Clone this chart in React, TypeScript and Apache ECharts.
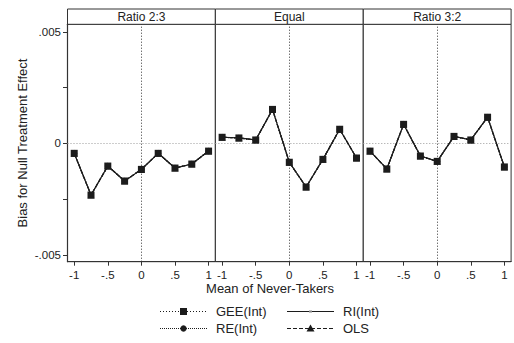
import React, { useEffect, useRef } from 'react';
import * as echarts from 'echarts';

// Mean of never-takers (x) and bias estimates for each allocation ratio
const neverTakerMeans = [-1, -0.75, -0.5, -0.25, 0, 0.25, 0.5, 0.75, 1];
const panelTitles = ['Ratio 2:3', 'Equal', 'Ratio 3:2'];
const biasRatio23 = [-0.00045, -0.00232, -0.00102, -0.00169, -0.00117, -0.00045, -0.00111, -0.00093, -0.00035];
const biasEqual = [0.00027, 0.00024, 0.00015, 0.00152, -0.00085, -0.00196, -0.00072, 0.00063, -0.00066];
const biasRatio32 = [-0.00035, -0.00115, 0.00085, -0.00057, -0.00081, 0.00031, 0.00015, 0.00117, -0.00106];
const panelBias = [biasRatio23, biasEqual, biasRatio32];

const xTickValues = [-1, -0.5, 0, 0.5, 1];
const yTickValues = [-0.005, -0.0025, 0, 0.0025, 0.005];
const yLabelValues = [-0.005, 0, 0.005];

const X_TITLE = 'Mean of Never-Takers';
const Y_TITLE = 'Bias for Null Treatment Effect';

const FONT = '"Liberation Sans", Arial, sans-serif';
const INK = '#1c1c1c';
const FRAME = '#333333';

// Estimators, drawn bottom to top
const estimators = [
  { name: 'OLS', lineType: [4, 2] as any, symbol: 'triangle', size: 7 },
  { name: 'RE(Int)', lineType: [1, 1] as any, symbol: 'circle', size: 6 },
  { name: 'RI(Int)', lineType: 'solid' as any, symbol: 'rect', size: 2 },
  { name: 'GEE(Int)', lineType: [1, 2] as any, symbol: 'rect', size: 7 },
];

const stataNum = (v: number) => {
  const s = String(Math.round(v * 1e6) / 1e6);
  return s.replace(/^(-?)0\./, '$1.');
};

const PANEL_LEFT = [67.5, 215.4, 363.3];
const PANEL_W = 147.8;
const PANEL_TOP = 24.3;
const PANEL_H = 237.4;
const HEADER_TOP = 9;

export default function App() {
  const ref = useRef<HTMLDivElement>(null);

  useEffect(() => {
    if (!ref.current) return;
    const chart = echarts.init(ref.current, undefined, { renderer: 'svg' });

    const grids = PANEL_LEFT.map((left) => ({
      left,
      top: PANEL_TOP,
      width: PANEL_W,
      height: PANEL_H,
      show: true,
      borderColor: FRAME,
      borderWidth: 1,
      backgroundColor: '#fff',
    }));

    const xAxes = PANEL_LEFT.map((_, i) => ({
      type: 'value',
      gridIndex: i,
      min: -1.1,
      max: 1.1,
      axisLine: { show: true, onZero: false, lineStyle: { color: FRAME, width: 1.2 } },
      axisTick: { show: true, length: 4, customValues: xTickValues, lineStyle: { color: FRAME } },
      axisLabel: {
        show: true,
        customValues: xTickValues,
        margin: 7,
        fontSize: 11.5,
        fontFamily: FONT,
        color: '#222',
        formatter: (v: number) => stataNum(v),
      },
      splitLine: { show: false },
    }));

    const yAxes = PANEL_LEFT.map((_, i) => ({
      type: 'value',
      gridIndex: i,
      min: -0.00531,
      max: 0.005336,
      axisLine: { show: i === 0, onZero: false, lineStyle: { color: FRAME, width: 1.2 } },
      axisTick: { show: i === 0, length: 4.5, customValues: yTickValues, lineStyle: { color: FRAME } },
      axisLabel: {
        show: i === 0,
        customValues: yLabelValues,
        margin: 6.5,
        fontSize: 11.5,
        fontFamily: FONT,
        color: '#222',
        formatter: (v: number) => stataNum(v),
      },
      splitLine: { show: false },
    }));

    const series: any[] = [];
    panelBias.forEach((bias, p) => {
      const data = neverTakerMeans.map((x, k) => [x, bias[k]]);
      estimators.forEach((est, e) => {
        const s: any = {
          name: est.name,
          type: 'line',
          xAxisIndex: p,
          yAxisIndex: p,
          data,
          symbol: est.symbol,
          symbolSize: est.size,
          showSymbol: true,
          lineStyle: { color: INK, width: 1.2, type: est.lineType },
          itemStyle: { color: est.name === 'RI(Int)' ? '#888' : INK },
          z: 3 + e,
          silent: true,
        };
        if (e === 0) {
          s.markLine = {
            z: 1,
            silent: true,
            symbol: 'none',
            label: { show: false },
            data: [
              { xAxis: 0, lineStyle: { color: '#333', type: [1, 2], width: 1 } },
              { yAxis: 0, lineStyle: { color: '#9a9a9a', type: [1, 2], width: 1 } },
            ],
          };
        }
        series.push(s);
      });
    });

    const graphics: any[] = [];
    // Panel headers
    PANEL_LEFT.forEach((left, i) => {
      graphics.push({
        type: 'rect',
        shape: { x: left, y: HEADER_TOP, width: PANEL_W, height: PANEL_TOP - HEADER_TOP },
        style: { fill: '#fff', stroke: FRAME, lineWidth: 1 },
      });
      graphics.push({
        type: 'text',
        x: left + PANEL_W / 2,
        y: (HEADER_TOP + PANEL_TOP) / 2 + 0.5,
        style: {
          text: panelTitles[i],
          fontSize: 12,
          fontFamily: FONT,
          fill: '#222',
          textAlign: 'center',
          textVerticalAlign: 'middle',
        },
      });
    });

    // Axis titles
    graphics.push({
      type: 'text',
      x: 22,
      y: 143,
      rotation: Math.PI / 2,
      style: {
        text: Y_TITLE,
        fontSize: 13,
        fontFamily: FONT,
        fill: '#222',
        textAlign: 'center',
        textVerticalAlign: 'middle',
      },
    });
    graphics.push({
      type: 'text',
      x: 270,
      y: 288,
      style: {
        text: X_TITLE,
        fontSize: 13,
        fontFamily: FONT,
        fill: '#222',
        textAlign: 'center',
        textVerticalAlign: 'middle',
      },
    });

    // Legend (2 x 2 layout)
    const legendSlots: Record<string, { x: number; y: number }> = {
      'GEE(Int)': { x: 160, y: 311.5 },
      'RE(Int)': { x: 160, y: 328.5 },
      'RI(Int)': { x: 287, y: 311.5 },
      OLS: { x: 287, y: 328.5 },
    };
    const LINE_W = 47;
    estimators.forEach((est) => {
      const { x, y } = legendSlots[est.name];
      const cx = x + LINE_W / 2;
      graphics.push({
        type: 'line',
        shape: { x1: x, y1: y, x2: x + LINE_W, y2: y },
        style: {
          stroke: INK,
          lineWidth: 1.2,
          lineDash: est.lineType === 'solid' ? null : est.lineType,
        },
      });
      if (est.name === 'GEE(Int)') {
        graphics.push({ type: 'rect', shape: { x: cx - 3.5, y: y - 3.5, width: 7, height: 7 }, style: { fill: INK } });
      } else if (est.name === 'RE(Int)') {
        graphics.push({ type: 'circle', shape: { cx, cy: y, r: 3.2 }, style: { fill: INK } });
      } else if (est.name === 'RI(Int)') {
        graphics.push({ type: 'rect', shape: { x: cx - 1.5, y: y - 1, width: 3, height: 2 }, style: { fill: '#888' } });
      } else {
        graphics.push({
          type: 'polygon',
          shape: { points: [[cx, y - 4], [cx - 4, y + 3], [cx + 4, y + 3]] },
          style: { fill: INK },
        });
      }
      graphics.push({
        type: 'text',
        x: x + LINE_W + 9,
        y,
        style: {
          text: est.name,
          fontSize: 13,
          fontFamily: FONT,
          fill: '#222',
          textVerticalAlign: 'middle',
        },
      });
    });

    chart.setOption({
      animation: false,
      backgroundColor: '#fff',
      grid: grids,
      xAxis: xAxes,
      yAxis: yAxes,
      series,
      graphic: graphics,
    });

    return () => chart.dispose();
  }, []);

  return <div ref={ref} style={{ width: 514, height: 343, position: 'absolute', left: 0, top: 0 }} />;
}
